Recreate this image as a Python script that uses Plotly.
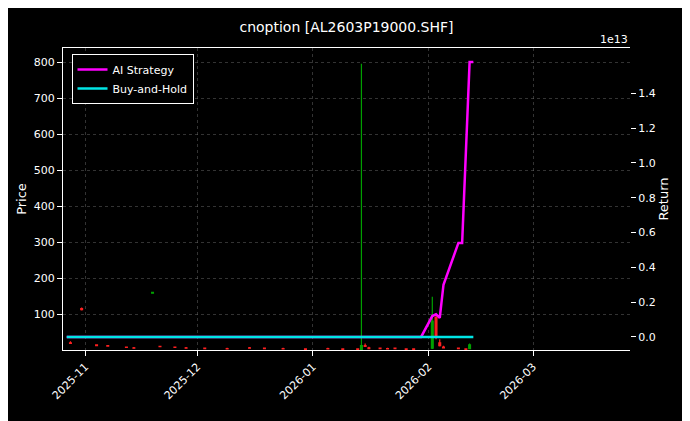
import plotly.graph_objects as go

# Candlestick data (sparse trading days)
dates = ["2025-10-28","2025-10-31","2025-11-04","2025-11-07","2025-11-12","2025-11-14","2025-11-19",
         "2025-11-21","2025-11-25","2025-11-28","2025-12-03","2025-12-09","2025-12-15","2025-12-19",
         "2025-12-24","2025-12-30","2026-01-05","2026-01-09","2026-01-13","2026-01-14","2026-01-15",
         "2026-01-16","2026-01-19","2026-01-21","2026-01-23","2026-01-26","2026-01-28","2026-02-02",
         "2026-02-03","2026-02-04","2026-02-05","2026-02-09","2026-02-11","2026-02-12"]
opens  = [20,115,14,12,8,6,158,10,8,6,5,4,6,5,4,3,4,3,3,2,12,6,5,4,5,3,3,5,90,20,8,5,3,4]
highs  = [24,118,16,14,10,8,162,12,10,8,7,6,8,7,6,5,6,5,5,795,18,9,7,6,7,5,5,148,95,30,12,7,5,18]
lows   = [18,110,12,10,6,4,156,8,6,4,3,2,4,3,2,1,2,1,1,1,8,3,3,2,3,1,1,3,30,10,4,3,1,2]
closes = [18,112,12,11,7,5,160,9,7,5,4,3,5,4,3,2,3,2,2,12,10,4,4,3,4,2,2,80,40,12,6,4,2,14]

# Strategy returns (units of 1e13)
strat_dates = ["2025-10-27","2026-01-30","2026-02-02","2026-02-03","2026-02-04","2026-02-05",
               "2026-02-09","2026-02-10","2026-02-12","2026-02-13"]
strat_ret = [0.0,0.0,0.12,0.13,0.11,0.30,0.54,0.54,1.58,1.58]
bh_dates = ["2025-10-27","2026-02-13"]
bh_ret = [0.0,0.0]

fig = go.Figure()
fig.add_trace(go.Candlestick(x=dates, open=opens, high=highs, low=lows, close=closes,
    increasing=dict(line=dict(color="#00a000", width=1.2), fillcolor="#00a000"),
    decreasing=dict(line=dict(color="#ff2020", width=1.2), fillcolor="#ff2020"),
    showlegend=False, whiskerwidth=0))
fig.add_trace(go.Scatter(x=strat_dates, y=[v*1e13 for v in strat_ret], yaxis="y2", mode="lines",
    name="AI Strategy", line=dict(color="#ff00ff", width=2.5)))
fig.add_trace(go.Scatter(x=bh_dates, y=[v*1e13 for v in bh_ret], yaxis="y2", mode="lines",
    name="Buy-and-Hold", line=dict(color="#00e5e5", width=2.5)))

grid = dict(showgrid=True, gridcolor="rgba(128,128,128,0.4)", griddash="dot", gridwidth=0.5)
fig.update_layout(
    width=690, height=421, paper_bgcolor="black", plot_bgcolor="black",
    font=dict(family="DejaVu Sans", color="white", size=11),
    title=dict(text="cnoption [AL2603P19000.SHF]", x=0.5, xref="paper", y=0.955, xanchor="center",
               yanchor="middle", font=dict(size=14)),
    margin=dict(l=55, r=68, t=40, b=79, autoexpand=False),
    xaxis=dict(range=["2025-10-26","2026-03-27"], rangeslider=dict(visible=False),
               tickvals=["2025-11-01","2025-12-01","2026-01-01","2026-02-01","2026-03-01"],
               ticktext=["2025-11","2025-12","2026-01","2026-02","2026-03"], tickangle=-45,
               ticks="outside", tickcolor="white", showline=True, linecolor="white", mirror=True,
               automargin=False, **grid),
    yaxis=dict(title=dict(text="Price", standoff=4), range=[0, 839], tickvals=[100,200,300,400,500,600,700,800],
               ticks="outside", tickcolor="white", showline=True, linecolor="white", zeroline=False,
               automargin=False, **grid),
    yaxis2=dict(title=dict(text="Return", standoff=4), overlaying="y", side="right", range=[-0.075e13, 1.66e13],
                tickvals=[i*0.2e13 for i in range(8)], ticktext=[f"{i*0.2:.1f}" for i in range(8)],
                ticks="outside", tickcolor="white", showgrid=False, zeroline=False, automargin=False),
    legend=dict(x=0.015, y=0.98, xanchor="left", yanchor="top", bgcolor="black",
                bordercolor="white", borderwidth=1, font=dict(size=11)),
    annotations=[dict(text="1e13", xref="paper", yref="paper", x=1.0, y=1.0, xanchor="right",
                      yanchor="bottom", showarrow=False, font=dict(size=11, color="white"))],
)
fig.write_html("out.html")
